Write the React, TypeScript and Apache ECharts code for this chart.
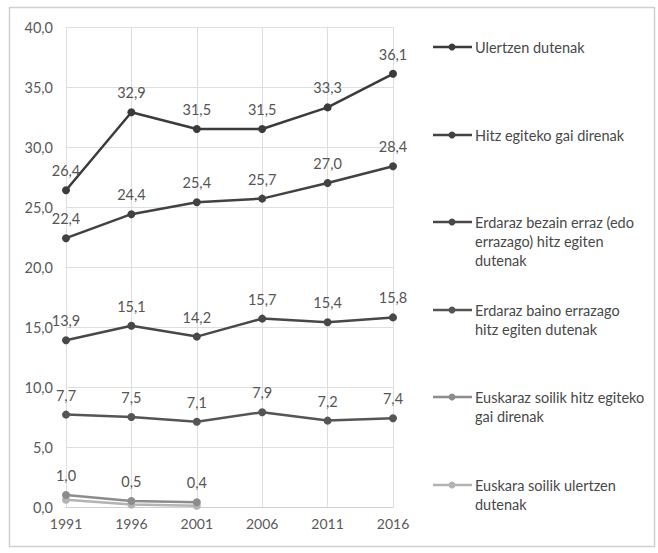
import React, { useEffect, useRef } from "react";
import * as echarts from "echarts";

const years = ["1991", "1996", "2001", "2006", "2011", "2016"];

const seriesNames = [
  "Ulertzen dutenak",
  "Hitz egiteko gai direnak",
  "Erdaraz bezain erraz (edo\nerrazago) hitz egiten\ndutenak",
  "Erdaraz baino errazago\nhitz egiten dutenak",
  "Euskaraz soilik hitz egiteko\ngai direnak",
  "Euskara soilik ulertzen\ndutenak",
];

const ulertzen = [26.4, 32.9, 31.5, 31.5, 33.3, 36.1];
const hitzEgiteko = [22.4, 24.4, 25.4, 25.7, 27.0, 28.4];
const bezainErraz = [13.9, 15.1, 14.2, 15.7, 15.4, 15.8];
const bainoErrazago = [7.7, 7.5, 7.1, 7.9, 7.2, 7.4];
const euskarazSoilik = [1.0, 0.5, 0.4];
const euskaraUlertzen = [0.6, 0.2, 0.1];

const seriesValues = [ulertzen, hitzEgiteko, bezainErraz, bainoErrazago, euskarazSoilik, euskaraUlertzen];
const showLabels = [true, true, true, true, true, false];

const colors = ["#3b3b3b", "#424242", "#484848", "#555555", "#8c8c8c", "#b3b3b3"];

const FONT = "Lato, 'Open Sans', sans-serif";
const fmt = (v: number) => v.toFixed(1).replace(".", ",");

// vertical centre of the first line of each legend entry
const legendRows = [47, 135, 222, 310, 397, 485];

export default function App() {
  const ref = useRef<HTMLDivElement>(null);

  useEffect(() => {
    if (!ref.current) return;
    const chart = echarts.init(ref.current, null, { renderer: "svg" });

    const legendGraphics: any[] = [];
    seriesNames.forEach((name, i) => {
      const y = legendRows[i];
      legendGraphics.push(
        {
          type: "line",
          shape: { x1: 433, y1: y, x2: 472, y2: y },
          style: { stroke: colors[i], lineWidth: 2.5 },
        },
        {
          type: "circle",
          shape: { cx: 452, cy: y, r: 3.5 },
          style: { fill: colors[i] },
        },
        {
          type: "text",
          x: 475,
          y: y - 9.5,
          style: {
            text: name,
            fill: "#484848",
            font: `14.5px ${FONT}`,
            lineHeight: 19,
            verticalAlign: "top",
          },
        }
      );
    });

    chart.setOption({
      animation: false,
      backgroundColor: "#ffffff",
      grid: { left: 66, right: 265, top: 27, bottom: 46 },
      xAxis: {
        type: "category",
        data: years,
        boundaryGap: false,
        axisLine: { lineStyle: { color: "#cfcfcf", width: 1 } },
        axisTick: { show: false },
        axisLabel: { color: "#595959", fontFamily: FONT, fontSize: 14, margin: 9 },
        splitLine: { show: true, lineStyle: { color: "#dedede", width: 1 } },
      },
      yAxis: {
        type: "value",
        min: 0,
        max: 40,
        interval: 5,
        axisLine: { show: false },
        axisTick: { show: false },
        axisLabel: {
          color: "#595959",
          fontFamily: FONT,
          fontSize: 14.5,
          margin: 13,
          formatter: (v: number) => fmt(v),
        },
        splitLine: { lineStyle: { color: "#dedede", width: 1 } },
      },
      series: seriesValues.map((vals, i) => ({
        name: seriesNames[i],
        type: "line",
        data: vals,
        symbol: "circle",
        symbolSize: 8,
        lineStyle: { color: colors[i], width: 2.5 },
        itemStyle: { color: colors[i] },
        label: {
          show: showLabels[i],
          position: "top",
          distance: 8,
          color: "#555555",
          fontFamily: FONT,
          fontSize: 14.5,
          formatter: (p: any) => fmt(p.value),
        },
        z: 10 - i,
      })),
      graphic: [
        {
          type: "rect",
          shape: { x: 9.5, y: 7.5, width: 645, height: 539 },
          style: { fill: "none", stroke: "#d0d0d0", lineWidth: 1.5 },
          silent: true,
        },
        ...legendGraphics,
      ],
    });

    return () => chart.dispose();
  }, []);

  return <div ref={ref} style={{ width: 658, height: 553, position: "absolute", left: 0, top: 0 }} />;
}
